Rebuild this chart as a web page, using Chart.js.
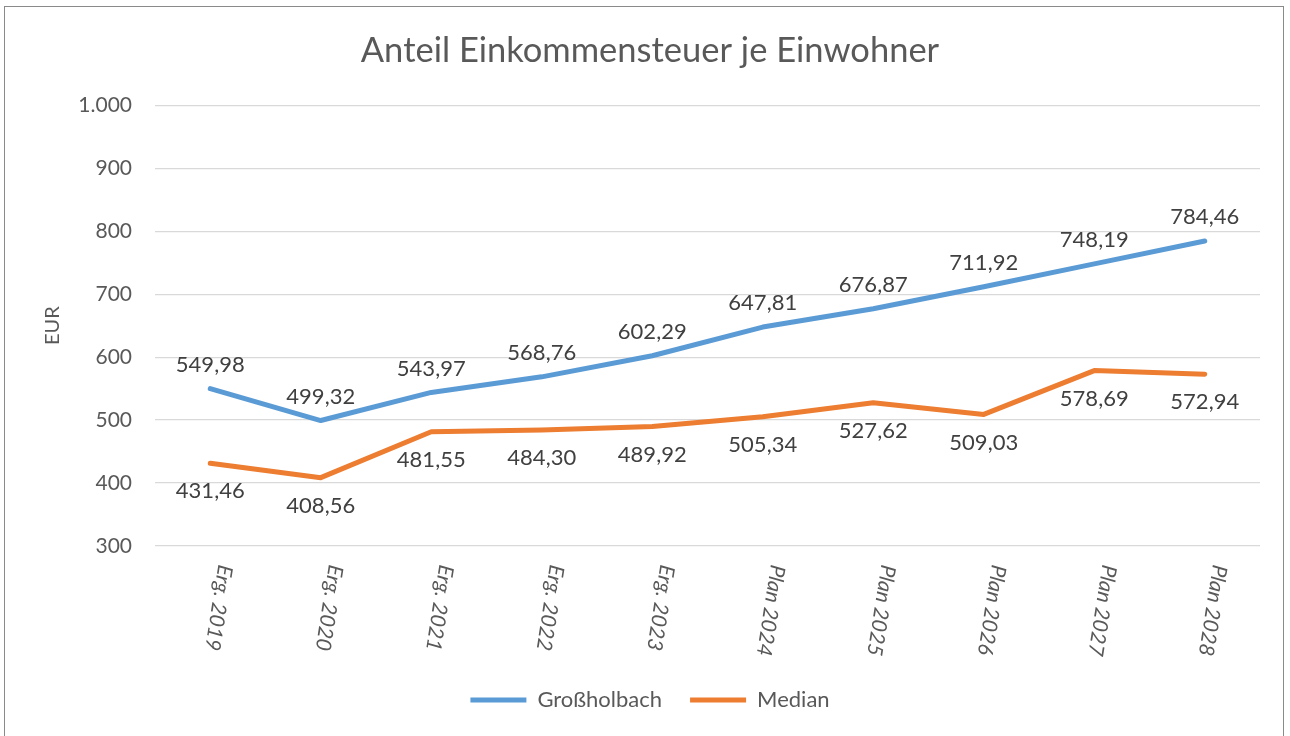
<!DOCTYPE html>
<html><head><meta charset="utf-8">
<script src="https://cdn.jsdelivr.net/npm/chart.js@4.4.1/dist/chart.umd.min.js"></script>
<style>
html,body{margin:0;padding:0;background:#fff;overflow:hidden;}
#frame{position:absolute;left:4px;top:6px;width:1280px;height:740px;border:1px solid #8a8a8a;box-sizing:border-box;}
#wrap{position:absolute;left:0;top:0;width:1290px;height:736px;}
</style></head><body>
<div id="frame"></div>
<div id="wrap"><canvas id="c" width="1290" height="736"></canvas></div>
<script>
const categories = ['Erg. 2019','Erg. 2020','Erg. 2021','Erg. 2022','Erg. 2023','Plan 2024','Plan 2025','Plan 2026','Plan 2027','Plan 2028'];
const grossholbach = [549.98, 499.32, 543.97, 568.76, 602.29, 647.81, 676.87, 711.92, 748.19, 784.46];
const median = [431.46, 408.56, 481.55, 484.30, 489.92, 505.34, 527.62, 509.03, 578.69, 572.94];
const seriesNames = ['Großholbach', 'Median'];
const yMin = 300, yMax = 1000, yStep = 100;
const titleText = 'Anteil Einkommensteuer je Einwohner';
const yTitle = 'EUR';

const FONT = 'Lato';
const TEXT = '#595959';
const LABEL = '#404040';

function fmtDec(v){ return v.toFixed(2).replace('.', ','); }
function fmtInt(v){ return String(Math.round(v)).replace(/\B(?=(\d{3})+(?!\d))/g, '.'); }

const xLabelPlugin = {
  id: 'xLabelPlugin',
  afterDraw(chart){
    const ctx = chart.ctx, xs = chart.scales.x, area = chart.chartArea;
    ctx.save();
    ctx.font = 'italic 21px ' + FONT;
    ctx.fillStyle = TEXT;
    ctx.textAlign = 'left';
    ctx.textBaseline = 'middle';
    categories.forEach((c, i) => {
      const x = xs.getPixelForValue(i);
      ctx.save();
      ctx.translate(x + 15, area.bottom + 19);
      ctx.rotate(99 * Math.PI / 180);
      ctx.fillText(c, 0, 0);
      ctx.restore();
    });
    ctx.restore();
  }
};

const dataLabelPlugin = {
  id: 'dataLabelPlugin',
  afterDatasetsDraw(chart){
    const ctx = chart.ctx;
    ctx.save();
    ctx.font = '22px ' + FONT;
    ctx.fillStyle = LABEL;
    ctx.textAlign = 'center';
    ctx.textBaseline = 'middle';
    chart.data.datasets.forEach((ds, di) => {
      const meta = chart.getDatasetMeta(di);
      meta.data.forEach((pt, i) => {
        const dy = di === 0 ? -24 : 28;
        ctx.fillText(fmtDec(ds.data[i]), pt.x, pt.y + dy);
      });
    });
    ctx.restore();
  }
};

new Chart(document.getElementById('c'), {
  type: 'line',
  data: {
    labels: categories,
    datasets: [
      { label: seriesNames[0], data: grossholbach, borderColor: '#5B9BD5', backgroundColor: '#5B9BD5',
        borderWidth: 5, pointRadius: 0, tension: 0, borderCapStyle: 'round', borderJoinStyle: 'round' },
      { label: seriesNames[1], data: median, borderColor: '#ED7D31', backgroundColor: '#ED7D31',
        borderWidth: 5, pointRadius: 0, tension: 0, borderCapStyle: 'round', borderJoinStyle: 'round' }
    ]
  },
  options: {
    responsive: false,
    animation: false,
    layout: { padding: { left: 40, right: 30, top: 0, bottom: 15 } },
    plugins: {
      title: { display: true, text: titleText, color: TEXT, font: { family: FONT, size: 34.5, weight: 'normal' },
               padding: { top: 30, bottom: 34 } },
      legend: { position: 'bottom',
        labels: { usePointStyle: true, pointStyle: 'line', pointStyleWidth: 56, color: TEXT,
                  font: { family: FONT, size: 22 }, padding: 28 } },
      tooltip: { enabled: false }
    },
    scales: {
      x: { offset: true, grid: { display: false }, border: { display: false }, ticks: { display: false },
           afterFit(s){ s.height = 115; } },
      y: { min: yMin, max: yMax,
           ticks: { stepSize: yStep, color: TEXT, font: { family: FONT, size: 21 }, padding: 23,
                    callback: v => fmtInt(v) },
           grid: { color: '#D9D9D9', lineWidth: 1.3, drawTicks: false },
           border: { display: false },
           title: { display: true, text: yTitle, color: TEXT, font: { family: FONT, size: 20 }, padding: { top: 1 } },
           afterFit(s){ s.width = 115; } }
    }
  },
  plugins: [xLabelPlugin, dataLabelPlugin]
});
</script>
</body></html>
